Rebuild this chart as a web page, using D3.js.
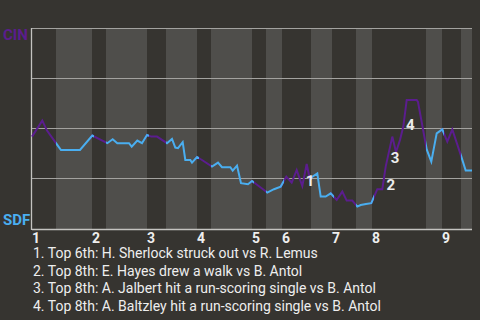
<!DOCTYPE html>
<html>
<head>
<meta charset="utf-8">
<script src="https://cdn.jsdelivr.net/npm/d3@7"></script>
<style>
  html, body { margin: 0; padding: 0; background: #363430; }
  body { width: 480px; height: 320px; overflow: hidden; font-family: Roboto, "Noto Sans", sans-serif; }
</style>
</head>
<body>
<div id="chart"></div>
<script>
// Datos: eje x = jugadas, eje y = probabilidad de victoria de CIN
const playX = [0, 2.06, 3, 4.8, 5.8, 9.6, 12.06, 15.06, 16.14, 17.06, 19.4, 19.94, 21.06, 22, 23, 23.86, 25, 27, 28, 28.66,
  29.2, 30.14, 30.66, 31.66, 32, 33, 34, 36, 37.2, 38, 39.66, 40.14, 41, 41.8, 43.2, 44, 46.4, 47.06, 48.4, 49.74,
  50.86, 51.94, 52.94, 54.06, 54.94, 55.6, 56, 57.06, 57.74, 58.74, 59.74, 60.94, 62.06, 62.94, 64.06, 65.06, 65.74, 66.8, 67.86,
  69.06, 70.06, 70.74, 72.06, 72.8, 73.6, 74.26, 74.94, 76.94, 77.2, 78.94, 79.86, 80.94, 82.06, 83.06, 84.06, 85.86, 86.74, 88];
const cinProb = [0.457, 0.537, 0.487, 0.424, 0.39, 0.39, 0.462, 0.424, 0.444, 0.424, 0.424, 0.407, 0.437, 0.424, 0.465, 0.457, 0.457, 0.424, 0.445, 0.402,
  0.399, 0.429, 0.34, 0.34, 0.327, 0.355, 0.34, 0.307, 0.327, 0.304, 0.304, 0.287, 0.312, 0.224, 0.219, 0.235, 0.19, 0.177, 0.194, 0.207,
  0.257, 0.227, 0.29, 0.21, 0.32, 0.24, 0.255, 0.273, 0.157, 0.157, 0.173, 0.14, 0.182, 0.137, 0.137, 0.107, 0.115, 0.12, 0.124,
  0.194, 0.194, 0.307, 0.457, 0.38, 0.44, 0.507, 0.64, 0.64, 0.63, 0.393, 0.332, 0.473, 0.493, 0.432, 0.493, 0.357, 0.287, 0.287];

// Entradas: inicio de la parte alta y de la parte baja
const inningLabels = ["1", "2", "3", "4", "5", "6", "7", "8", "9"];
const topStart = [0, 12, 23, 33, 44, 50, 60, 68, 82];
const bottomStart = [4.8, 14.8, 26.8, 35.8, 46.8, 55.8, 64.8, 78.8, 85.8];
const lastPlay = 88;

// Jugadas destacadas
const eventLabels = ["1", "2", "3", "4"];
const eventX = [55.6, 71.74, 72.6, 75.66];
const eventP = [0.21, 0.19, 0.3265, 0.49];
const eventTexts = [
  "1. Top 6th: H. Sherlock struck out vs R. Lemus",
  "2. Top 8th: E. Hayes drew a walk vs B. Antol",
  "3. Top 8th: A. Jalbert hit a run-scoring single vs B. Antol",
  "4. Top 8th: A. Baltzley hit a run-scoring single vs B. Antol"
];
const gridTicks = [0.25, 0.5, 0.75, 1];

const cinColor = "#5b1d8e";
const sdfColor = "#4aaef0";

const svg = d3.select("#chart")
  .append("svg")
  .attr("width", 480)
  .attr("height", 320);

const x = d3.scaleLinear().domain([0, lastPlay]).range([32, 472]);
const y = d3.scaleLinear().domain([0, 1]).range([228, 28]);

// Franjas de la parte baja de cada entrada
const halves = topStart.map((s, i) => ({
  top: [s, bottomStart[i]],
  bottom: [bottomStart[i], i < topStart.length - 1 ? topStart[i + 1] : lastPlay]
}));

svg.append("g").selectAll("rect")
  .data(halves)
  .enter()
  .append("rect")
  .attr("x", d => x(d.bottom[0]))
  .attr("y", y(1))
  .attr("width", d => x(d.bottom[1]) - x(d.bottom[0]))
  .attr("height", y(0) - y(1) + 1)
  .attr("fill", "#4f4e4b");

// Líneas de referencia
svg.append("g").selectAll("line")
  .data(gridTicks)
  .enter()
  .append("line")
  .attr("x1", x(0))
  .attr("x2", x(lastPlay))
  .attr("y1", d => y(d) + 0.5)
  .attr("y2", d => y(d) + 0.5)
  .attr("stroke", "#a3a29f")
  .attr("stroke-width", 1.2);

svg.append("line")
  .attr("x1", x(0)).attr("x2", x(lastPlay))
  .attr("y1", y(0) + 1.5).attr("y2", y(0) + 1.5)
  .attr("stroke", "#c4c3c0").attr("stroke-width", 1.3);

svg.append("line")
  .attr("x1", x(0) - 0.5).attr("x2", x(0) - 0.5)
  .attr("y1", y(1)).attr("y2", y(0) + 2)
  .attr("stroke", "#c4c3c0").attr("stroke-width", 1.3);

// Recortes para colorear según quién batea
const defs = svg.append("defs");
defs.append("clipPath").attr("id", "clipTop")
  .selectAll("rect").data(halves).enter().append("rect")
  .attr("x", d => x(d.top[0]) - 2)
  .attr("width", d => x(d.top[1]) - x(d.top[0]) + 2)
  .attr("y", 0).attr("height", 320);
defs.append("clipPath").attr("id", "clipBottom")
  .selectAll("rect").data(halves).enter().append("rect")
  .attr("x", d => x(d.bottom[0]))
  .attr("width", d => x(d.bottom[1]) - x(d.bottom[0]) + 2)
  .attr("y", 0).attr("height", 320);

const points = playX.map((px, i) => [px, cinProb[i]]);
const line = d3.line()
  .x(d => x(d[0]))
  .y(d => y(d[1]));

svg.append("path")
  .datum(points)
  .attr("d", line)
  .attr("fill", "none")
  .attr("stroke", cinColor)
  .attr("stroke-width", 2)
  .attr("stroke-linejoin", "miter")
  .attr("clip-path", "url(#clipTop)");

svg.append("path")
  .datum(points)
  .attr("d", line)
  .attr("fill", "none")
  .attr("stroke", sdfColor)
  .attr("stroke-width", 2)
  .attr("stroke-linejoin", "miter")
  .attr("clip-path", "url(#clipBottom)");

// Etiquetas de equipos
svg.append("text")
  .attr("x", 3).attr("y", 40)
  .attr("fill", cinColor)
  .style("font-size", "15px").style("font-weight", "bold")
  .text("CIN");
svg.append("text")
  .attr("x", 3).attr("y", 225)
  .attr("fill", sdfColor)
  .style("font-size", "15px").style("font-weight", "bold")
  .text("SDF");

// Números de entrada
svg.append("g").selectAll("text")
  .data(inningLabels)
  .enter()
  .append("text")
  .attr("x", (d, i) => x(topStart[i]) + 4)
  .attr("y", 243)
  .attr("text-anchor", "middle")
  .attr("fill", "#eeeeee")
  .style("font-size", "14px").style("font-weight", "bold")
  .text(d => d);

// Marcadores de jugadas
svg.append("g").selectAll("text")
  .data(eventLabels)
  .enter()
  .append("text")
  .attr("x", (d, i) => x(eventX[i]))
  .attr("y", (d, i) => y(eventP[i]))
  .attr("text-anchor", "middle")
  .attr("fill", "#ececec")
  .style("font-size", "15px").style("font-weight", "bold")
  .text(d => d);

// Leyenda de jugadas
svg.append("g").selectAll("text")
  .data(eventTexts)
  .enter()
  .append("text")
  .attr("x", 33)
  .attr("y", (d, i) => 258 + i * 17.7)
  .attr("fill", "#eeeeee")
  .style("font-size", "14px")
  .text(d => d);
</script>
</body>
</html>
